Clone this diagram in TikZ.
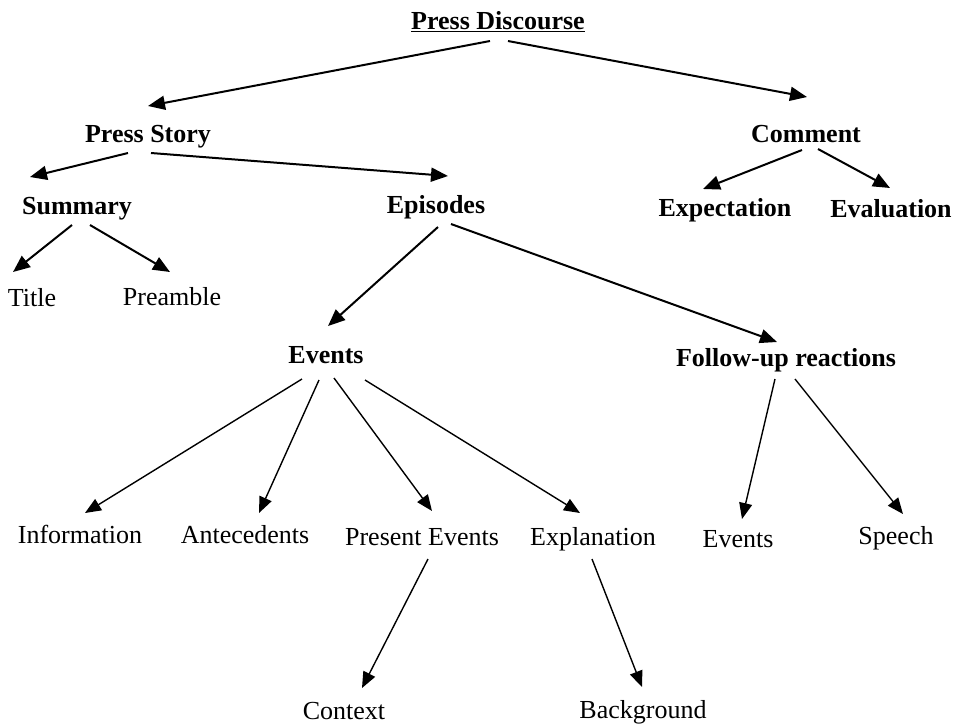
\documentclass[tikz,border=0pt]{standalone}
\usepackage{fontspec}
\setmainfont{Liberation Serif}
\usetikzlibrary{arrows.meta}

\begin{document}
\begin{tikzpicture}[x=1pt, y=-1pt,
            every node/.style = {inner sep=0pt, anchor=base},
            leaf/.style = {font=\fontsize{26}{31}\selectfont},
            head/.style = {font=\fontsize{26}{31}\selectfont\bfseries},
            arr/.style = {draw, line width=2pt, -{Triangle[length=17pt,width=14pt]}},
            arrlight/.style = {draw, line width=1.4pt, -{Triangle[length=16pt,width=13pt]}}]

            \useasboundingbox (0,0) rectangle (961,724);

            \node[head] (pd) at (498,29) {\underline{Press Discourse}};
            \node[head] (story) at (148,142) {Press Story};
            \node[head] (comment) at (806,142) {Comment};
            \node[head] (summary) at (77,214) {Summary};
            \node[head] (episodes) at (436,213) {Episodes};
            \node[head] (expect) at (725,216) {Expectation};
            \node[head] (evalu) at (891,217) {Evaluation};
            \node[leaf] (title) at (32,306) {Title};
            \node[leaf] (preamble) at (172,305) {Preamble};
            \node[head] (events) at (326,363) {Events};
            \node[head] (followup) at (786,366) {Follow-up reactions};
            \node[leaf] (info) at (80,543) {Information};
            \node[leaf] (antec) at (245,543) {Antecedents};
            \node[leaf] (present) at (422,545) {Present Events};
            \node[leaf] (explan) at (593,545) {Explanation};
            \node[leaf] (fevents) at (738,547) {Events};
            \node[leaf] (speech) at (896,544) {Speech};
            \node[leaf] (context) at (344,719) {Context};
            \node[leaf] (backgr) at (643,718) {Background};

            \draw[arr] ([shift={(-8,12)}]pd.base) -- ([shift={(0,-36)}]story.base);
            \draw[arr] ([shift={(10,12)}]pd.base) -- ([shift={(1,-45)}]comment.base);
            \draw[arr] ([shift={(-20,11)}]story.base) -- ([shift={(-47,-37)}]summary.base);
            \draw[arr] ([shift={(3,11)}]story.base) -- ([shift={(12,-37)}]episodes.base);
            \draw[arr] ([shift={(-4,8)}]comment.base) -- ([shift={(-22,-27)}]expect.base);
            \draw[arr] ([shift={(12,7)}]comment.base) -- ([shift={(-1,-29)}]evalu.base);
            \draw[arr] ([shift={(-5,11)}]summary.base) -- ([shift={(-19,-34)}]title.base);
            \draw[arr] ([shift={(13,11)}]summary.base) -- ([shift={(-2,-33)}]preamble.base);
            \draw[arr] ([shift={(2,14)}]episodes.base) -- ([shift={(2,-37)}]events.base);
            \draw[arr] ([shift={(15,11)}]episodes.base) -- ([shift={(-9,-24)}]followup.base);
            \draw[arrlight] ([shift={(-24,16)}]events.base) -- ([shift={(5,-30)}]info.base);
            \draw[arrlight] ([shift={(-7,17)}]events.base) -- ([shift={(14,-30)}]antec.base);
            \draw[arrlight] ([shift={(8,15)}]events.base) -- ([shift={(10,-34)}]present.base);
            \draw[arrlight] ([shift={(39,17)}]events.base) -- ([shift={(-13,-32)}]explan.base);
            \draw[arrlight] ([shift={(-11,13)}]followup.base) -- ([shift={(4,-28)}]fevents.base);
            \draw[arrlight] ([shift={(9,13)}]followup.base) -- ([shift={(7,-30)}]speech.base);
            \draw[arrlight] ([shift={(6,14)}]present.base) -- ([shift={(18,-31)}]context.base);
            \draw[arrlight] ([shift={(-1,14)}]explan.base) -- ([shift={(-1,-31)}]backgr.base);

        \end{tikzpicture}
\end{document}
